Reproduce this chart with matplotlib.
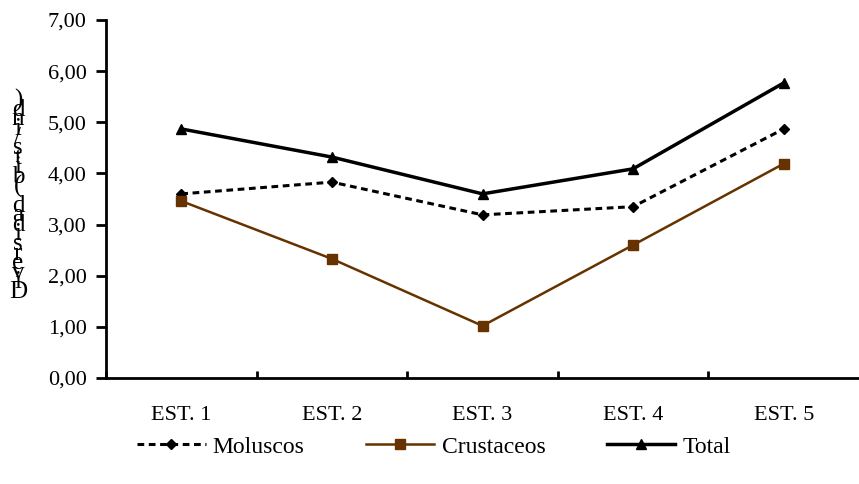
import matplotlib.pyplot as plt
import numpy as np

plt.rcParams["font.family"] = ["Liberation Serif", "DejaVu Serif"]

categories = ["EST. 1", "EST. 2", "EST. 3", "EST. 4", "EST. 5"]
moluscos = [3.60, 3.83, 3.19, 3.35, 4.87]
crustaceos = [3.46, 2.33, 1.02, 2.60, 4.19]
total = [4.87, 4.32, 3.60, 4.09, 5.77]
y_label = "Diversidad (bits/ind)"

fig = plt.figure(figsize=(8.59, 4.84), dpi=100)
ax = fig.add_axes([106 / 859, 1 - 378 / 484, (859 - 106) / 859, (378 - 20) / 484])

x = np.arange(len(categories))
ax.plot(x, moluscos, color="black", lw=2.2, ls=(0, (2.2, 1.5)), marker="D", ms=5.5,
        label="Moluscos")
ax.plot(x, crustaceos, color="#663300", lw=1.8, marker="s", ms=7,
        label="Crustaceos")
ax.plot(x, total, color="black", lw=2.5, marker="^", ms=7.5, label="Total")

ax.set_xlim(-0.5, len(categories) - 0.5)
ax.set_ylim(0, 7)
ax.set_yticks(np.arange(0, 8, 1))
ax.set_yticklabels([f"{v:.2f}".replace(".", ",") for v in np.arange(0, 8, 1)],
                   fontsize=16)
ax.set_xticks(x)
ax.set_xticklabels(categories, fontsize=16)
ax.set_xticks(np.arange(-0.5, len(categories) - 0.5, 1), minor=True)
ax.tick_params(axis="x", which="major", length=0, pad=20)
ax.tick_params(axis="x", which="minor", length=5, width=2, direction="in")
ax.tick_params(axis="y", length=7, width=2, direction="out", pad=7)

for side in ["top", "right"]:
    ax.spines[side].set_visible(False)
for side in ["left", "bottom"]:
    ax.spines[side].set_linewidth(2)

# y label drawn as stacked upright characters (bottom to top)
y0, step = 292, 9.6
for i, ch in enumerate(y_label):
    if ch == " ":
        continue
    fig.text(18 / 859, 1 - (y0 - i * step) / 484, ch, fontsize=18,
             ha="center", va="center")

leg = fig.legend(loc="center", bbox_to_anchor=(0.505, 1 - 447 / 484), ncol=3,
                 frameon=False, fontsize=17, handlelength=2.9, columnspacing=2.6,
                 handletextpad=0.3)

fig.savefig("out.png", dpi=100)
